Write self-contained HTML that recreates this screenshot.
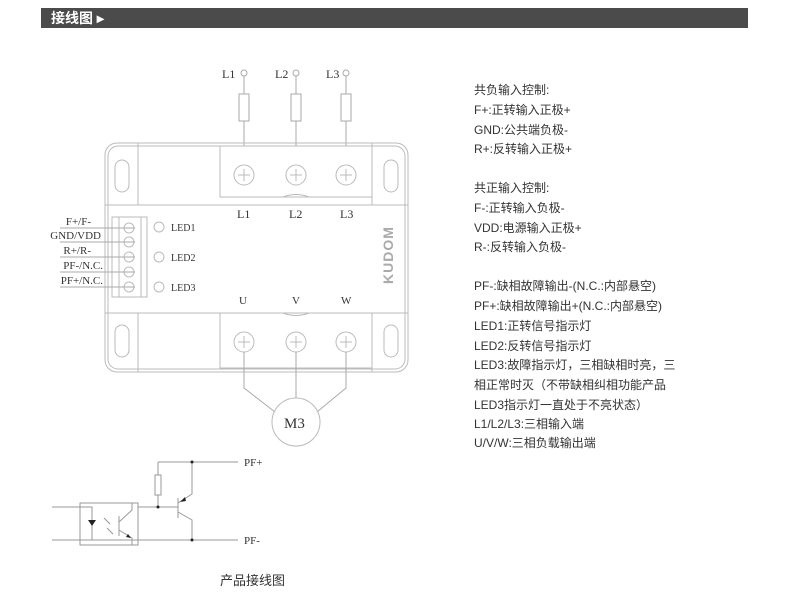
<!DOCTYPE html>
<html><head><meta charset="utf-8"><style>
body{margin:0;background:#fff;width:790px;height:601px;overflow:hidden;position:relative;font-family:"Liberation Sans","Noto Sans CJK SC",sans-serif}
.bar{position:absolute;left:41px;top:8px;width:707px;height:20px;background:#4b4b4b}
.bar span{position:absolute;left:10px;top:1px;color:#fff;font-size:14px;line-height:18px;font-weight:bold}
.t{position:absolute;left:474px;font-size:12px;color:#333;line-height:14px;white-space:nowrap}
</style></head><body>
<div class="bar"><span>接线图 ▸</span></div>
<svg width="790" height="601" style="position:absolute;left:0;top:0" font-family="Liberation Serif,serif" font-size="11" fill="none" stroke="#bbb" stroke-width="1">
<g stroke="#aaa">
<circle cx="244" cy="73" r="3"/><circle cx="296" cy="73" r="3"/><circle cx="346" cy="73" r="3"/>
<line x1="244" y1="76" x2="244" y2="168"/><line x1="296" y1="76" x2="296" y2="168"/><line x1="346" y1="76" x2="346" y2="168"/>
<rect x="239" y="94" width="10" height="27" fill="#fff"/><rect x="291" y="94" width="10" height="27" fill="#fff"/><rect x="341" y="94" width="10" height="27" fill="#fff"/>
</g>
<g fill="#333" stroke="none" font-size="12"><text x="222" y="78">L1</text><text x="275" y="78">L2</text><text x="326" y="78">L3</text></g>
<rect x="105" y="143" width="303" height="229" rx="12"/>
<rect x="108" y="146" width="297" height="223" rx="10"/>
<line x1="138" y1="143" x2="138" y2="205"/><line x1="105" y1="205" x2="408" y2="205"/><line x1="372" y1="143" x2="372" y2="205"/>
<line x1="138" y1="313" x2="138" y2="372"/><line x1="105" y1="313" x2="408" y2="313"/><line x1="372" y1="313" x2="372" y2="372"/>
<rect x="115" y="160" width="14" height="32" rx="7"/><rect x="384" y="160" width="14" height="32" rx="7"/>
<rect x="115" y="325" width="14" height="32" rx="7"/><rect x="384" y="325" width="14" height="32" rx="7"/>
<rect x="220" y="146" width="152" height="51" fill="#fff"/>
<rect x="220" y="313" width="152" height="55" fill="#fff"/>
<path d="M283 197 q13 -5 26 0"/><path d="M283 313 q13 5 26 0"/>
<g>
<circle cx="244" cy="175" r="10"/><circle cx="296" cy="175" r="10"/><circle cx="346" cy="175" r="10"/>
<circle cx="244" cy="342" r="10"/><circle cx="296" cy="342" r="10"/><circle cx="346" cy="342" r="10"/>
<path d="M238 175h12M244 169v12M290 175h12M296 169v12M340 175h12M346 169v12M238 342h12M244 336v12M290 342h12M296 336v12M340 342h12M346 336v12"/>
</g>
<g fill="#333" stroke="none" font-size="12"><text x="237" y="218">L1</text><text x="289" y="218">L2</text><text x="340" y="218">L3</text>
<text x="239" y="304" font-size="11">U</text><text x="292" y="304" font-size="11">V</text><text x="341" y="304" font-size="11">W</text></g>
<text x="388" y="255" text-anchor="middle" transform="rotate(-90 388 255) translate(0 5)" fill="#aaa" stroke="none" font-family="Liberation Sans" font-size="14" font-weight="bold" letter-spacing="1">KUDOM</text>
<rect x="112" y="217" width="35" height="80"/><line x1="119" y1="217" x2="119" y2="297"/><line x1="141" y1="217" x2="141" y2="297"/>
<g><circle cx="129" cy="228" r="5"/><circle cx="129" cy="242" r="5"/><circle cx="129" cy="257" r="5"/><circle cx="129" cy="272" r="5"/><circle cx="129" cy="287" r="5"/>
<path d="M60 228h75M60 242h75M60 257h75M60 272h75M60 287h75" stroke="#aaa"/></g>
<g fill="#333" stroke="none" font-size="11" text-anchor="end">
<text x="91" y="225">F+/F-</text><text x="101" y="239">GND/VDD</text><text x="91" y="254">R+/R-</text><text x="103" y="269">PF-/N.C.</text><text x="103" y="284">PF+/N.C.</text></g>
<circle cx="159" cy="227" r="5"/><circle cx="159" cy="257" r="5"/><circle cx="159" cy="287" r="5"/>
<g fill="#333" stroke="none" font-size="10"><text x="171" y="231">LED1</text><text x="171" y="261">LED2</text><text x="171" y="291">LED3</text></g>
<path d="M244 352V388L275 412M296 352V398M346 352V388L317 412" stroke="#aaa"/>
<circle cx="296" cy="422" r="24"/>
<text x="284" y="428" fill="#333" stroke="none" font-size="15">M3</text>
<g stroke="#999">
<path d="M158 462H238M158 462V475M158 495V507M138 507H178M178 498V518M178 503L192 494V462M178 512L192 520V540M52 540H238M52 507H92V540"/>
<rect x="155" y="475" width="6" height="20"/>
<rect x="80" y="503" width="58" height="42"/>
<path d="M119 516V536M119 522L132 510V503M119 530L132 538V545"/>
<path d="M104 518l6 6M107 528l6 6"/>
</g>
<path d="M88 520h8l-4 6z" fill="#222" stroke="none"/>
<g fill="#222" stroke="none"><circle cx="192" cy="462" r="1.5"/><circle cx="158" cy="507" r="1.5"/><circle cx="192" cy="540" r="1.5"/>
<path d="M180 502l5 -5 1 4z"/><path d="M131 538l-5 -1 2 -3z"/></g>
<g fill="#333" stroke="none" font-size="11"><text x="244" y="466">PF+</text><text x="244" y="544">PF-</text></g>
</svg>
<div style="position:absolute;left:220px;top:570px;font-size:13px;color:#333">产品接线图</div>
<div class="t" style="top:83px">共负输入控制:</div>
<div class="t" style="top:103px">F+:正转输入正极+</div>
<div class="t" style="top:123px">GND:公共端负极-</div>
<div class="t" style="top:142px">R+:反转输入正极+</div>
<div class="t" style="top:181px">共正输入控制:</div>
<div class="t" style="top:201px">F-:正转输入负极-</div>
<div class="t" style="top:221px">VDD:电源输入正极+</div>
<div class="t" style="top:240px">R-:反转输入负极-</div>
<div class="t" style="top:279px">PF-:缺相故障输出-(N.C.:内部悬空)</div>
<div class="t" style="top:299px">PF+:缺相故障输出+(N.C.:内部悬空)</div>
<div class="t" style="top:319px">LED1:正转信号指示灯</div>
<div class="t" style="top:339px">LED2:反转信号指示灯</div>
<div class="t" style="top:358px">LED3:故障指示灯，三相缺相时亮，三</div>
<div class="t" style="top:378px">相正常时灭（不带缺相纠相功能产品</div>
<div class="t" style="top:398px">LED3指示灯一直处于不亮状态）</div>
<div class="t" style="top:417px">L1/L2/L3:三相输入端</div>
<div class="t" style="top:436px">U/V/W:三相负载输出端</div>
</body></html>
